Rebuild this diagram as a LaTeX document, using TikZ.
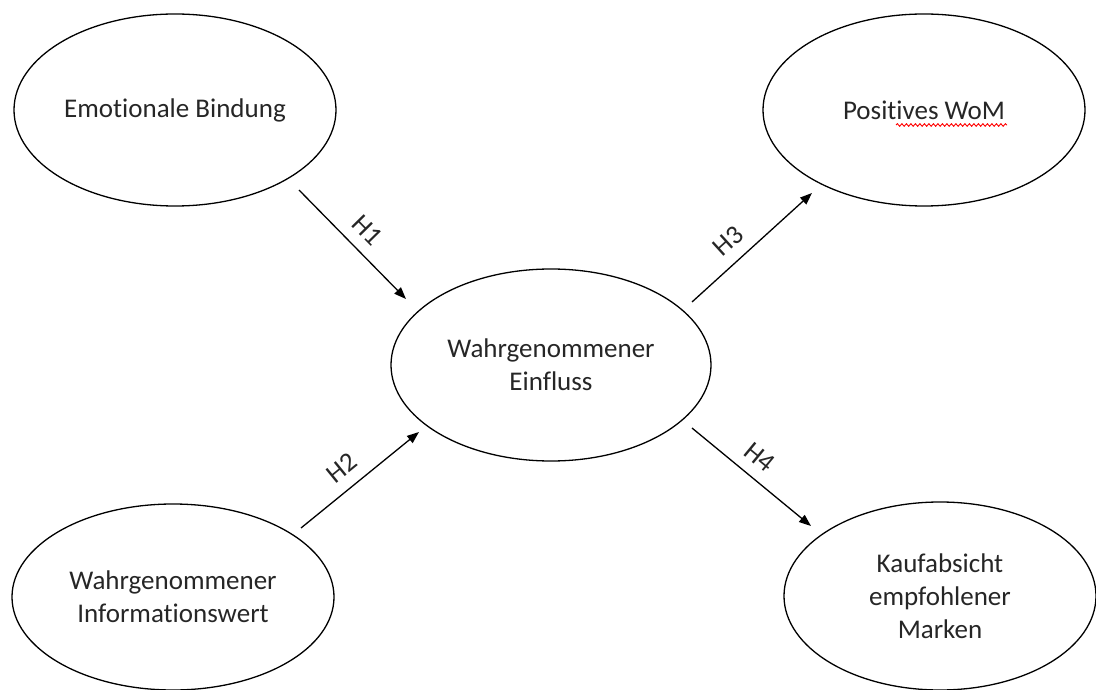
\documentclass[tikz,border=0pt]{standalone}
\usepackage{fontspec}
\setmainfont{Carlito}[Ligatures={NoCommon}]
\usetikzlibrary{shapes.geometric,arrows.meta,decorations.pathmorphing}

\begin{document}
\begin{tikzpicture}[x=1pt,y=-1pt,
  construct/.style={draw=black, line width=1.3pt, ellipse, inner sep=0pt,
    align=center, font=\fontsize{27}{33}\selectfont, text=black!85},
  path/.style={line width=1.3pt, -{Triangle[length=12pt,width=9pt]}},
  hyp/.style={sloped, above=8pt, font=\fontsize{27}{33}\selectfont, text=black!85}]
  \useasboundingbox (0,0) rectangle (1096,690);

  % constructs
  \node[construct, minimum width=322pt, minimum height=192pt] (EB) at (175,110) {Emotionale Bindung};
  \node[construct, minimum width=322pt, minimum height=192pt] (PW) at (924,110) {Positives WoM};
  \node[construct, minimum width=320pt, minimum height=192pt] (WE) at (551,365) {Wahrgenommener\\Einfluss};
  \node[construct, minimum width=322pt, minimum height=186pt] (WI) at (173,597) {Wahrgenommener\\Informationswert};
  \node[construct, minimum width=312pt, minimum height=188pt] (KA) at (940,596) {Kaufabsicht\\empfohlener\\Marken};

  % spell-check mark under "WoM"
  \draw[red, line width=0.9pt, decorate,
        decoration={snake, amplitude=1.3pt, segment length=4.5pt}]
        (896,125) -- (1007,125);

  % connector end points
  \coordinate (h1s) at (299,190); \coordinate (h1e) at (406,299);
  \coordinate (h2s) at (301,528); \coordinate (h2e) at (419,432);
  \coordinate (h3s) at (692,302); \coordinate (h3e) at (812,193);
  \coordinate (h4s) at (692,428); \coordinate (h4e) at (811,526);

  % hypotheses
  \draw[path] (h1s) -- node[hyp, pos=0.5] (H1) {H1} (h1e);
  \draw[path] (h2s) -- node[hyp, pos=0.46] (H2) {H2} (h2e);
  \draw[path] (h3s) -- node[hyp, pos=0.42] (H3) {H3} (h3e);
  \draw[path] (h4s) -- node[hyp, pos=0.46] (H4) {H4} (h4e);
\end{tikzpicture}
\end{document}
